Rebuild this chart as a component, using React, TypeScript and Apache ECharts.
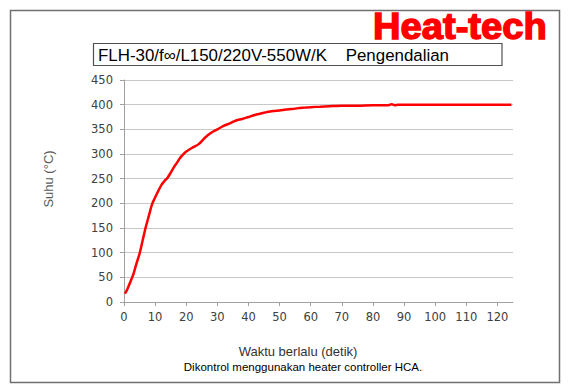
import React, { useEffect, useRef } from "react";
import * as echarts from "echarts";

const times = [0.3, 1, 2, 3, 4, 5, 6, 7, 8, 9, 10, 11, 12, 13, 14, 15, 16, 17, 18, 19, 20, 22, 24, 26, 28, 30, 32, 34, 36, 38, 40, 42, 44, 46, 48, 50, 52, 54, 56, 58, 60, 63, 66, 70, 75, 80, 85, 86, 87, 88, 90, 100, 110, 120, 124.5];
const temps = [17, 25, 40, 56, 78, 98, 125, 152, 175, 198, 212, 225, 237, 245, 252, 262, 273, 282, 292, 299, 305, 313, 320, 333, 343, 350, 357, 362, 368, 371, 375, 379, 382, 385, 387, 388, 390, 391, 393, 394, 395, 396, 397, 398, 398, 399, 399, 401, 399, 400, 400, 400, 400, 400, 400];
const xTicks = [0, 10, 20, 30, 40, 50, 60, 70, 80, 90, 100, 110, 120];
const titleText = "FLH-30/f\u221E/L150/220V-550W/K    Pengendalian";
const logoText = "Heat-tech";
const yName = "Suhu (\u00B0C)";
const xName = "Waktu berlalu (detik)";
const noteText = "Dikontrol menggunakan heater controller HCA.";

export default function App() {
  const ref = useRef<HTMLDivElement>(null);
  useEffect(() => {
    if (!ref.current) return;
    const chart = echarts.init(ref.current, null, { renderer: "svg" });
    const labelFont = "DejaVu Sans";
    chart.setOption({
      animation: false,
      backgroundColor: "#ffffff",
      grid: { left: 124, top: 80, right: 56, bottom: 89 },
      xAxis: {
        type: "value",
        min: 0,
        max: 125,
        interval: 10,
        axisLine: { show: true, lineStyle: { color: "#a0a0a0", width: 1 } },
        axisTick: { show: true, length: 4, customValues: xTicks, lineStyle: { color: "#a0a0a0" } },
        axisLabel: { customValues: xTicks, color: "#404040", fontFamily: labelFont, fontSize: 11.5, margin: 9 },
        splitLine: { show: false },
      },
      yAxis: {
        type: "value",
        min: 0,
        max: 450,
        interval: 50,
        axisLine: { show: true, lineStyle: { color: "#a0a0a0", width: 1 } },
        axisTick: { show: true, length: 4, lineStyle: { color: "#a0a0a0" } },
        axisLabel: { color: "#404040", fontFamily: labelFont, fontSize: 11.5, margin: 11 },
        splitLine: { show: true, lineStyle: { color: "#c8c8c8", width: 1 } },
      },
      series: [
        {
          type: "line",
          data: times.map((t, i) => [t, temps[i]]),
          showSymbol: false,
          smooth: 0.3,
          lineStyle: { color: "#ff0000", width: 2.5 },
        },
      ],
      graphic: [
        {
          type: "rect",
          shape: { x: 10.5, y: 10.5, width: 549, height: 372 },
          style: { fill: "none", stroke: "#707070", lineWidth: 1.5 },
          z: -1,
        },
        {
          type: "rect",
          shape: { x: 93.5, y: 43.5, width: 408.5, height: 22 },
          style: { fill: "#ffffff", stroke: "#505050", lineWidth: 1.2 },
        },
        {
          type: "text",
          x: 98,
          y: 55,
          style: { text: titleText, fill: "#000000", font: "16.9px 'Liberation Sans'", textVerticalAlign: "middle" },
        },
        {
          type: "text",
          x: 373,
          y: 26,
          scaleX: 1.06,
          style: {
            text: logoText,
            fill: "#ff0000",
            stroke: "#ff0000",
            lineWidth: 1.4,
            font: "bold 36px 'Liberation Sans'",
            textVerticalAlign: "middle",
          },
        },
        {
          type: "text",
          x: 48,
          y: 179,
          rotation: Math.PI / 2,
          style: { text: yName, fill: "#595959", font: "13px 'Liberation Sans'", textAlign: "center", textVerticalAlign: "middle" },
        },
        {
          type: "text",
          x: 298,
          y: 351,
          style: { text: xName, fill: "#333333", font: "13px 'Liberation Sans'", textAlign: "center", textVerticalAlign: "middle" },
        },
        {
          type: "text",
          x: 303,
          y: 367,
          style: { text: noteText, fill: "#000000", font: "11.5px 'Liberation Sans'", textAlign: "center", textVerticalAlign: "middle" },
        },
      ],
    });
    return () => chart.dispose();
  }, []);
  return <div ref={ref} style={{ width: 569, height: 391, position: "absolute", left: 0, top: 0 }} />;
}
